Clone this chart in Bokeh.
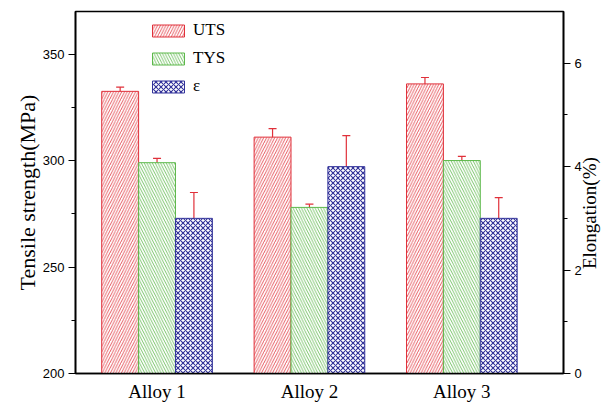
import math
from bokeh.plotting import figure
from bokeh.models import (Range1d, LinearAxis, FixedTicker, ColumnDataSource, Whisker,
                          TeeHead, Legend, LegendItem, Title)
from bokeh.embed import file_html
from bokeh.resources import INLINE

alloys = ["Alloy 1", "Alloy 2", "Alloy 3"]
uts = [332.5, 311, 336]
uts_err = [2, 4, 3]
tys = [299, 278, 300]
tys_err = [2, 1.5, 2]
elong = [3.0, 4.0, 3.0]
elong_err = [0.5, 0.6, 0.4]

RED = "#e0303a"
GREEN = "#5cb84a"
BLUE = "#33339a"
SERIF = "Liberation Serif"
SANS = "Liberation Sans"
NB = "\u00a0"

xc = [1, 2, 3]
bw = 0.242

p = figure(width=613, height=404, x_range=Range1d(0.465, 3.667), y_range=Range1d(200, 370),
           output_backend="svg", toolbar_location=None,
           min_border_left=75, min_border_right=48, min_border_top=11, min_border_bottom=29)
p.extra_y_ranges = {"el": Range1d(0, 7)}
p.xgrid.visible = False
p.ygrid.visible = False
p.outline_line_color = "black"
p.outline_line_width = 1.6
p.background_fill_color = "white"
p.border_fill_color = "white"

def mk(vals, errs, off):
    xs = [x + off for x in xc]
    return ColumnDataSource(dict(x=xs, top=vals,
                                 upper=[v + e for v, e in zip(vals, errs)],
                                 lower=[v - e for v, e in zip(vals, errs)]))

s_uts = mk(uts, uts_err, -bw)
s_tys = mk(tys, tys_err, 0)
s_el = mk(elong, elong_err, bw)

r1 = p.vbar(x="x", top="top", bottom=200, width=bw, source=s_uts, fill_color="white",
            line_color=RED, line_width=1, hatch_pattern="/", hatch_color=RED,
            hatch_scale=5.5, hatch_weight=0.8)
r2 = p.vbar(x="x", top="top", bottom=200, width=bw, source=s_tys, fill_color="white",
            line_color=GREEN, line_width=1, hatch_pattern="\\", hatch_color=GREEN,
            hatch_scale=5.5, hatch_weight=0.8)
r3 = p.vbar(x="x", top="top", bottom=0, width=bw, source=s_el, fill_color="white",
            line_color=BLUE, line_width=1, hatch_pattern="x", hatch_color=BLUE,
            hatch_scale=5, hatch_weight=1.1, y_range_name="el")

for src, rn in ((s_uts, "default"), (s_tys, "default"), (s_el, "el")):
    w = Whisker(base="x", upper="upper", lower="lower", source=src, dimension="height",
                line_color=RED, line_width=1.2, y_range_name=rn,
                upper_head=TeeHead(size=8, line_color=RED, line_width=1.2),
                lower_head=TeeHead(size=8, line_color=RED, line_width=1.2))
    p.add_layout(w)

def style_y(ax):
    ax.major_label_text_font = SANS
    ax.major_label_text_font_size = "13px"
    ax.major_label_text_color = "black"
    ax.major_tick_out = 7
    ax.major_tick_in = 0
    ax.minor_tick_out = 4
    ax.minor_tick_in = 0
    ax.axis_line_width = 1.6
    ax.axis_line_color = "black"
    ax.major_tick_line_color = "black"
    ax.minor_tick_line_color = "black"
    ax.major_label_standoff = 4

# left axis
ya = p.yaxis[0]
ya.ticker = FixedTicker(ticks=[200, 250, 300, 350], minor_ticks=[225, 275, 325])
style_y(ya)
p.add_layout(Title(text="Tensile strength(MPa)", align="center", offset=-10,
                   text_font=SERIF, text_font_size="22px", text_font_style="normal",
                   text_color="black", standoff=0), "left")

# right axis
ra = LinearAxis(y_range_name="el",
                ticker=FixedTicker(ticks=[0, 2, 4, 6], minor_ticks=[1, 3, 5]))
style_y(ra)
ra.axis_label = NB * 22 + "Elongation(%)"
ra.axis_label_orientation = math.pi / 2
ra.axis_label_text_font = SERIF
ra.axis_label_text_font_size = "19px"
ra.axis_label_text_font_style = "normal"
ra.axis_label_text_color = "black"
ra.axis_label_standoff = 5
try:
    ra.axis_label_align = "start"
except Exception:
    pass
p.add_layout(ra, "right")

# bottom axis
xa = p.xaxis[0]
xa.ticker = FixedTicker(ticks=xc)
xa.major_label_overrides = {x: a for x, a in zip(xc, alloys)}
xa.major_label_text_font = SERIF
xa.major_label_text_font_size = "19px"
xa.major_label_text_color = "black"
xa.major_tick_line_color = None
xa.minor_tick_line_color = None
xa.major_label_standoff = 1
xa.axis_line_width = 1.6
xa.axis_line_color = "black"

legend = Legend(items=[LegendItem(label="UTS", renderers=[r1]),
                       LegendItem(label="TYS", renderers=[r2]),
                       LegendItem(label="\u03b5", renderers=[r3])],
                location=(73, 277), padding=0, margin=0, spacing=8,
                glyph_width=40, glyph_height=15, label_height=15, label_standoff=5,
                label_text_font=SERIF, label_text_font_size="17px",
                label_text_color="black",
                border_line_color=None, background_fill_alpha=0)
p.add_layout(legend)

open("out.html", "w").write(file_html(p, INLINE))
